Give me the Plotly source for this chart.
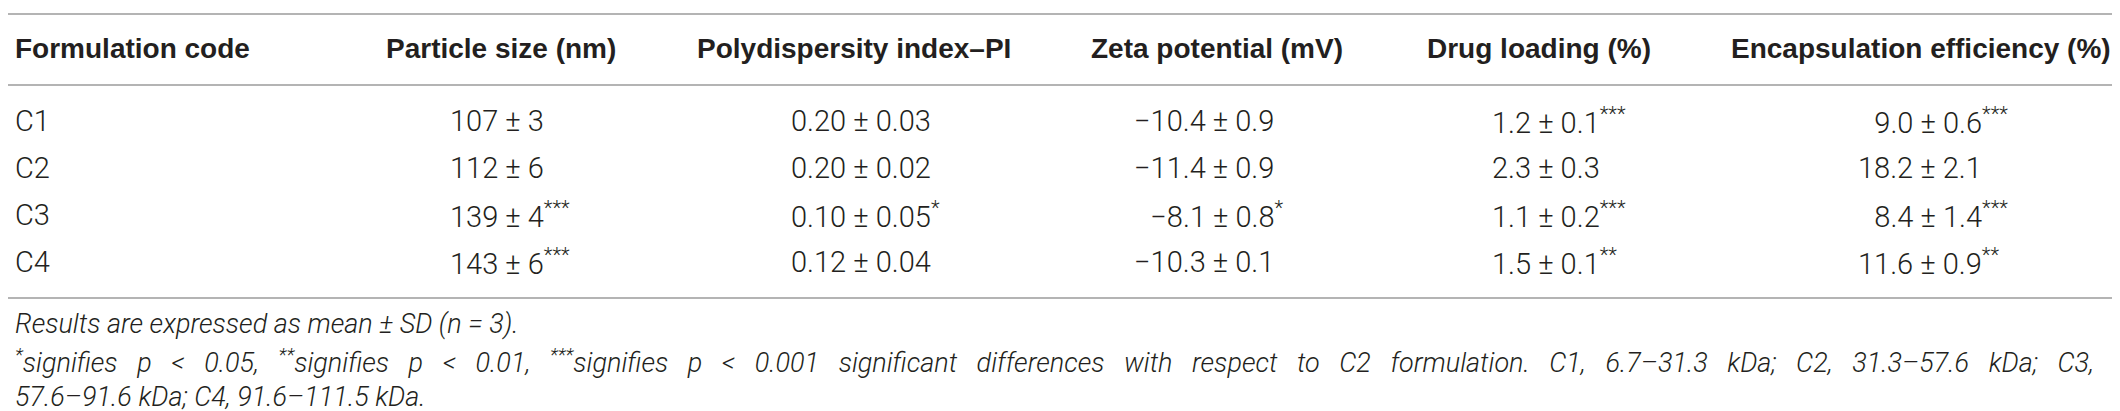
import plotly.graph_objects as go

# ---- table data ----
codes = ["C1", "C2", "C3", "C4"]
headers = ["Formulation code", "Particle size (nm)", "Polydispersity index\u2013PI",
           "Zeta potential (mV)", "Drug loading (%)", "Encapsulation efficiency (%)"]

size_mean = [107, 112, 139, 143]
size_sd = [3, 6, 4, 6]
size_sig = ["", "", "***", "***"]

pdi_mean = [0.20, 0.20, 0.10, 0.12]
pdi_sd = [0.03, 0.02, 0.05, 0.04]
pdi_sig = ["", "", "*", ""]

zeta_mean = [-10.4, -11.4, -8.1, -10.3]
zeta_sd = [0.9, 0.9, 0.8, 0.1]
zeta_sig = ["", "", "*", ""]

dl_mean = [1.2, 2.3, 1.1, 1.5]
dl_sd = [0.1, 0.3, 0.2, 0.1]
dl_sig = ["***", "", "***", "**"]

ee_mean = [9.0, 18.2, 8.4, 11.6]
ee_sd = [0.6, 2.1, 1.4, 0.9]
ee_sig = ["***", "", "***", "**"]

note1 = "Results are expressed as mean \u00b1 SD (n = 3)."
note2 = ("<sup>*</sup>signifies p < 0.05, <sup>**</sup>signifies p < 0.01, <sup>***</sup>signifies p < 0.001 "
         "significant differences with respect to C2 formulation. C1, 6.7\u201331.3 kDa; "
         "C2, 31.3\u201357.6 kDa; C3,")
note3 = "57.6\u201391.6 kDa; C4, 91.6\u2013111.5 kDa."

# ---- layout (pixels) ----
W, H = 2120, 411
header_x = [5, 376, 687, 1081, 1417, 1721]
data_x = [5, 440, 781, 1124, 1482, 1848]
header_y = 40
row_y = [113, 160, 207, 254]
note_y = [316, 353, 389]
rules_y = [6, 77, 290]

BODY = dict(family="Roboto, Liberation Sans, sans-serif", size=29, color="#231f20", weight=300)
HEAD = dict(family="Liberation Sans, Arial, sans-serif", size=28, color="#231f20", weight=700)
NOTE = dict(family="Roboto, Liberation Sans, sans-serif", size=27, color="#231f20", weight=300,
            style="italic")

FIG_SPACE = "\u2007"
# the second footnote line is justified in the source: widen its word gaps
JUSTIFY_GAP = "\u00a0" * 3


def fmt_col(means, sds, sigs, dec):
    texts = []
    for m, s in zip(means, sds):
        t = f"{abs(m):.{dec}f}"
        if m < 0:
            t = "\u2212" + t
        texts.append((t, f"{s:.{dec}f}"))
    width = max(len(t.split(".")[0]) for t, _ in texts)
    out = []
    for (t, s), g in zip(texts, sigs):
        pad = width - len(t.split(".")[0])
        cell = FIG_SPACE * pad + t + " \u00b1 " + s
        if g:
            cell += f"<sup>{g}</sup>"
        out.append(cell)
    return out


columns = [
    codes,
    fmt_col(size_mean, size_sd, size_sig, 0),
    fmt_col(pdi_mean, pdi_sd, pdi_sig, 2),
    fmt_col(zeta_mean, zeta_sd, zeta_sig, 1),
    fmt_col(dl_mean, dl_sd, dl_sig, 1),
    fmt_col(ee_mean, ee_sd, ee_sig, 1),
]

fig = go.Figure()
fig.add_trace(go.Scatter(x=[0, W], y=[0, H], mode="markers", marker=dict(opacity=0),
                         hoverinfo="skip", showlegend=False))

annotations = []
for hx, h in zip(header_x, headers):
    annotations.append(dict(x=hx, y=header_y, text=h, font=HEAD))
for cx, col in zip(data_x, columns):
    for ry, cell in zip(row_y, col):
        annotations.append(dict(x=cx, y=ry, text=cell, font=BODY))
note_texts = [note1, JUSTIFY_GAP.join(note2.split(" ")), note3]
for ny, n in zip(note_y, note_texts):
    annotations.append(dict(x=5, y=ny, text=n, font=NOTE))

for a in annotations:
    a.update(xref="x", yref="y", xanchor="left", yanchor="middle", showarrow=False)

shapes = [dict(type="line", xref="x", yref="y", x0=0, x1=W, y0=ry, y1=ry,
               line=dict(color="#b4b4b4", width=2)) for ry in rules_y]

fig.update_layout(
    width=W, height=H,
    margin=dict(l=0, r=0, t=0, b=0),
    paper_bgcolor="white", plot_bgcolor="white",
    xaxis=dict(range=[0, W], visible=False, fixedrange=True),
    yaxis=dict(range=[H, 0], visible=False, fixedrange=True),
    annotations=annotations,
    shapes=shapes,
)

fig.write_html("out.html")
